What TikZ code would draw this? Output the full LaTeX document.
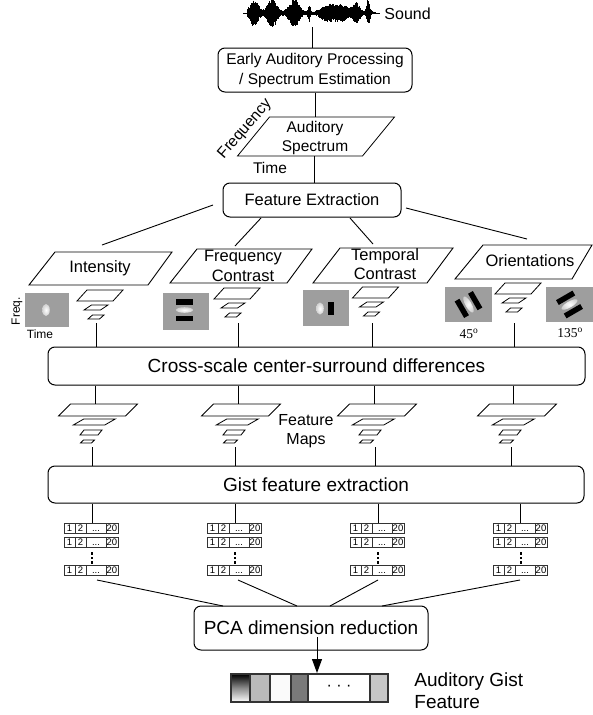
\documentclass[tikz,border=0pt]{standalone}
\usepackage{fontspec}
\setmainfont{Liberation Sans}
\newfontfamily\timesf{Liberation Serif}
\usetikzlibrary{arrows.meta}

% parallelogram: cx, cy, w, h, skew
\newcommand\pgram[5]{%
  \draw[pyr] (#1-#3/2-#5/2,#2+#4/2) -- (#1+#3/2-#5/2,#2+#4/2) -- (#1+#3/2+#5/2,#2-#4/2) -- (#1-#3/2+#5/2,#2-#4/2) -- cycle;}
% small pyramid (3 levels): cx, ytop
\newcommand\upyr[2]{%
  \pgram{#1}{#2+5.5}{36}{11}{10}
  \pgram{#1-4}{#2+17.5}{16.5}{5}{7.5}
  \pgram{#1-4}{#2+27}{11.5}{4}{4.5}}
% feature map pyramid (4 levels): cx
\newcommand\lpyr[1]{%
  \pgram{#1}{410}{67}{12}{12}
  \pgram{#1-3.75}{422}{31.5}{6}{10.5}
  \pgram{#1-7}{432.5}{18}{5}{4}
  \pgram{#1-10.5}{441.5}{11}{3}{3}}
% vector row: x, y
\newcommand\vrow[2]{%
  \draw[cellst] (#1,#2) rectangle ++(11,10);
  \draw[cellst] (#1+11,#2) rectangle ++(11,10);
  \draw[cellst] (#1+22,#2) rectangle ++(20,10);
  \draw[cellst] (#1+42,#2) rectangle ++(12,10);
  \node[ctext] at (#1+5.5,#2+8.8) {1};
  \node[ctext] at (#1+16.5,#2+8.8) {2};
  \node[ctext] at (#1+32,#2+8.8) {...};
  \node[ctext] at (#1+48,#2+8.8) {20};}
% vector column: x left, line x
\newcommand\vcol[2]{%
  \coordinate (vc#2) at (#2,523);
  \draw (gist.south -| vc#2) -- (vc#2);
  \vrow{#1}{523}\vrow{#1}{537}\vrow{#1}{565}
  \fill (#1+26.5,552) rectangle ++(2.2,2.5);
  \fill (#1+26.5,556.5) rectangle ++(2.2,2.5);
  \fill (#1+26.5,561) rectangle ++(2.2,2.5);}

\tikzset{
  rbox/.style={draw, rounded corners=7pt, line width=1pt, inner sep=0pt, align=center},
  pyr/.style={line width=0.8pt, line join=miter},
  cellst/.style={draw=black!80, line width=1pt},
  ctext/.style={inner sep=0pt, anchor=base, font=\fontsize{9.5}{10}\selectfont},
  imgbg/.style={fill=black!38},
  blob/.style={inner color=white, outer color=black!18},
  lbl/.style={inner sep=0pt, align=center}
}

\begin{document}
\begin{tikzpicture}[x=1pt,y=-1pt,line width=0.9pt]
\useasboundingbox (0,0) rectangle (593,715);

% ---- sound waveform ----
\draw[line width=0.5pt] (243,13) -- (380,13);
\pgfmathsetseed{12}
\foreach \x in {247,247.5,...,375}{%
  \pgfmathsetmacro\env{1.5+12*exp(-min((abs(\x-254)/5.5)^2,9))+13.5*exp(-min((abs(\x-272)/6)^2,9))+12.5*exp(-min((abs(\x-294)/6.5)^2,9))+9*exp(-min((abs(\x-309)/1.3)^2,9))+8*exp(-min((abs(\x-334)/15)^4,9))+10*exp(-min((abs(\x-356)/4.5)^2,9))+12*exp(-min((abs(\x-368)/2)^2,9))}
  \pgfmathsetmacro\a{min(\env*(0.6+0.4*rnd),13)}
  \pgfmathsetmacro\b{min(\env*(0.6+0.4*rnd),13.5)}
  \draw[line width=0.8pt] (\x,13-\a) -- (\x,13+\b);
}
\coordinate (wave) at (312,27);
\node[lbl, anchor=west, font=\fontsize{16}{18}\selectfont] (sound) at (384,14) {Sound};

% ---- early processing ----
\node[rbox, font=\fontsize{15.5}{20}\selectfont, minimum width=194pt, minimum height=44pt] (early) at (315,70) {Early Auditory Processing\\/ Spectrum Estimation};
\draw (wave) -- (wave |- early.north);

% ---- auditory spectrum ----
\pgram{316}{136.5}{125}{39}{32}
\coordinate (spectop) at (315,117);
\coordinate (specbot) at (314,156);
\node[lbl, font=\fontsize{15.5}{19}\selectfont] (spec) at (315,137.5) {Auditory\\Spectrum};
\node[lbl, font=\fontsize{15.5}{18}\selectfont, rotate=49] (freqax) at (245,129) {Frequency};
\node[lbl, font=\fontsize{15.5}{18}\selectfont] (timeax) at (270,167.5) {Time};
\draw (early.south) -- (early.south |- spectop);

% ---- feature extraction ----
\node[rbox, font=\fontsize{16.5}{19}\selectfont, minimum width=178pt, minimum height=34pt] (featx) at (312,200) {Feature Extraction};
\draw (specbot) -- (specbot |- featx.north);

\coordinate (fa1) at (213,205); \coordinate (fb1) at (102,245);
\coordinate (fa2) at (261,218); \coordinate (fb2) at (235,246);
\coordinate (fa3) at (350,218); \coordinate (fb3) at (373,244);
\coordinate (fa4) at (406,208); \coordinate (fb4) at (527,239);
\foreach \i in {1,2,3,4} \draw (fa\i) -- (fb\i);

% ---- feature parallelograms ----
\draw[line width=0.9pt] (29,285) -- (148,285) -- (172,252) -- (55,252) -- cycle;
\draw[line width=0.9pt] (170,283) -- (287,283) -- (312,249) -- (197,249) -- cycle;
\draw[line width=0.9pt] (313,283) -- (427,283) -- (453,248) -- (340,248) -- cycle;
\draw[line width=0.9pt] (455,279) -- (572,279) -- (592,245) -- (483,245) -- cycle;
\node[lbl, font=\fontsize{16.5}{19}\selectfont] (inten) at (100,268.5) {Intensity};
\node[lbl, font=\fontsize{16.5}{20}\selectfont] (fcon) at (243,266) {Frequency\\Contrast};
\node[lbl, font=\fontsize{16.5}{19}\selectfont] (tcon) at (385,264) {Temporal\\Contrast};
\node[lbl, font=\fontsize{16.5}{19}\selectfont] (orient) at (530,261) {Orientations};

% ---- kernel images ----
% intensity
\fill[imgbg] (25,293) rectangle (69,327);
\shade[blob] (46,310) ellipse [x radius=3.8, y radius=6];
\node[lbl, font=\fontsize{12}{14}\selectfont, rotate=90] (freqlbl) at (17,311) {Freq.};
\node[lbl, font=\fontsize{12}{14}\selectfont] (timelbl) at (40,334) {Time};
% frequency contrast
\fill[imgbg] (163,293) rectangle (209,330);
\fill (176,299) rectangle (193,304.5);
\fill (176,315.5) rectangle (193,321);
\shade[blob] (184.5,310) ellipse [x radius=8.5, y radius=2.8];
% temporal contrast
\fill[imgbg] (303,290) rectangle (349,326);
\shade[blob] (320,308.5) ellipse [x radius=3.8, y radius=6];
\fill (328,302) rectangle (334,315);
% orientation 45
\fill[imgbg] (445,287) rectangle (492,322);
\begin{scope}[shift={(468.5,304.5)}, rotate=-60]
  \fill (-9.5,-10.5) rectangle (9.5,-5);
  \fill (-9.5,5) rectangle (9.5,10.5);
  \shade[blob] (0,0) ellipse [x radius=9, y radius=3];
\end{scope}
\node[lbl, font=\timesf\fontsize{13.5}{15}\selectfont] (l45) at (469,334) {45\textsuperscript{o}};
% orientation 135
\fill[imgbg] (546,287) rectangle (593,322);
\begin{scope}[shift={(569.5,304.5)}, rotate=30]
  \fill (-9.5,-10.5) rectangle (9.5,-5);
  \fill (-9.5,5) rectangle (9.5,10.5);
  \shade[blob] (0,0) ellipse [x radius=9, y radius=3];
\end{scope}
\node[lbl, font=\timesf\fontsize{13.5}{15}\selectfont] (l135) at (570,333) {135\textsuperscript{o}};

% ---- small pyramids ----
\upyr{100}{290}
\upyr{237}{288}
\upyr{375.5}{287}
\upyr{518}{283}

% ---- cross-scale ----
\node[rbox, font=\fontsize{19}{22}\selectfont, minimum width=537pt, minimum height=38pt] (cross) at (316.5,366) {Cross-scale center-surround differences};
\foreach \c in {96,238,372,514}{
  \coordinate (pu\c) at (\c,323);
  \draw (pu\c) -- (pu\c |- cross.north);
}

% ---- feature maps ----
\foreach \c/\t in {95/98,238/241,374/377,513/517}{
  \coordinate (pm\c) at (\c,404);
  \draw (cross.south -| pm\c) -- (pm\c);
  \lpyr{\t}
}
\node[lbl, font=\fontsize{16}{18.5}\selectfont] (fmaps) at (306,431) {Feature\\Maps};

% ---- gist ----
\node[rbox, font=\fontsize{19}{22}\selectfont, minimum width=536pt, minimum height=37pt] (gist) at (316,484.5) {Gist feature extraction};
\foreach \c in {92,235,375,511}{
  \coordinate (pl\c) at (\c,447);
  \draw (pl\c) -- (pl\c |- gist.north);
}

% ---- vectors ----
\vcol{64}{92}
\vcol{207}{235}
\vcol{350}{378}
\vcol{493}{520}

% ---- PCA ----
\node[rbox, font=\fontsize{19}{22}\selectfont, minimum width=234pt, minimum height=44pt] (pca) at (311,628) {PCA dimension reduction};
\coordinate (va1) at (97,580);  \coordinate (vb1) at (223,606);
\coordinate (va2) at (238,580); \coordinate (vb2) at (297,606);
\coordinate (va3) at (378,580); \coordinate (vb3) at (330,606);
\coordinate (va4) at (520,580); \coordinate (vb4) at (382,606);
\foreach \i in {1,2,3,4} \draw (va\i) -- (vb\i);

% ---- output vector ----
\coordinate (arrs) at (317,637);
\coordinate (arre) at (317,673);
\draw[-{Triangle[length=14pt,width=10pt]}, line width=0.9pt] (arrs) -- (arre);
\shade[top color=black, bottom color=white, middle color=black!45] (231,674) rectangle (250,702);
\fill[black!27] (250,674) rectangle (270,702);
\fill[black!2] (270,674) rectangle (291,702);
\fill[black!52] (291,674) rectangle (308,702);
\fill[white] (308,674) rectangle (370,702);
\fill[black!22] (370,674) rectangle (388,702);
\foreach \xx in {250,270,291,308,370} \draw[line width=1.1pt, black!80] (\xx,674) -- (\xx,702);
\draw[line width=1.1pt, black!80] (231,674) rectangle (388,702);
\node[lbl, font=\fontsize{16}{18}\selectfont] (odots) at (339,688) {· · ·};
\node[lbl, anchor=west, align=left, font=\fontsize{19}{22}\selectfont] (gistout) at (414,691) {Auditory Gist\\Feature};
\end{tikzpicture}
\end{document}
